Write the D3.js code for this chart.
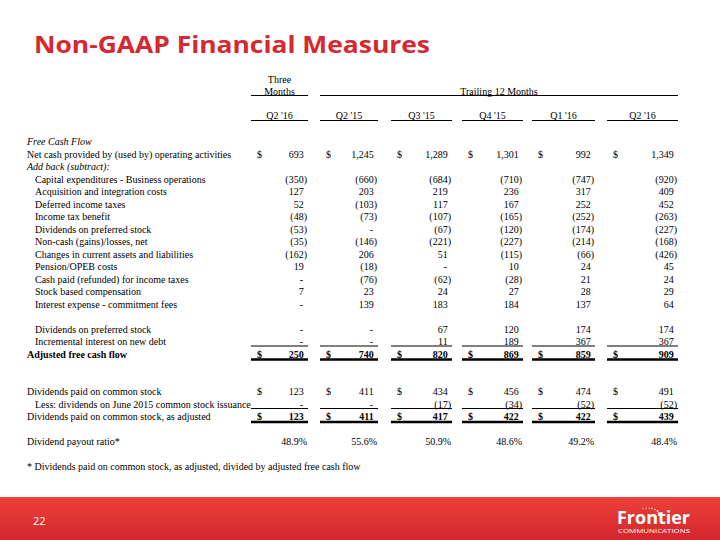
<!DOCTYPE html>
<html><head><meta charset="utf-8">
<script src="https://cdn.jsdelivr.net/npm/d3@7"></script>
<style>
html,body{margin:0;padding:0;background:#fff;}
svg{display:block;}
</style></head>
<body>
<svg id="chart" width="720" height="540"></svg>
<script>
// ---- data ----
const title = "Non-GAAP Financial Measures";
const groupHeaders = ["Three\nMonths", "Trailing 12 Months"];
const columns = ["Q2 '16", "Q2 '15", "Q3 '15", "Q4 '15", "Q1 '16", "Q2 '16"];
const netCash       = [693, 1245, 1289, 1301, 992, 1349];
const capex         = [-350, -660, -684, -710, -747, -920];
const acquisition   = [127, 203, 219, 236, 317, 409];
const deferredTax   = [52, -103, 117, 167, 252, 452];
const incomeTax     = [-48, -73, -107, -165, -252, -263];
const divPreferred  = [-53, null, -67, -120, -174, -227];
const nonCash       = [-35, -146, -221, -227, -214, -168];
const changesWC     = [-162, 206, 51, -115, -66, -426];
const pension       = [19, -18, null, 10, 24, 45];
const cashTaxes     = [null, -76, -62, -28, 21, 24];
const stockComp     = [7, 23, 24, 27, 28, 29];
const interestFees  = [null, 139, 183, 184, 137, 64];
const divPreferred2 = [null, null, 67, 120, 174, 174];
const incrInterest  = [null, null, 11, 189, 367, 367];
const adjustedFCF   = [250, 740, 820, 869, 859, 909];
const divCommon     = [123, 411, 434, 456, 474, 491];
const lessDivJune   = [null, null, -17, -34, -52, -52];
const divAdjusted   = [123, 411, 417, 422, 422, 439];
const payoutRatio   = [48.9, 55.6, 50.9, 48.6, 49.2, 48.4];
const footnote = "* Dividends paid on common stock, as adjusted, divided by adjusted free cash flow";
const pageNumber = "22";

// ---- row definitions (slot = row position on the grid) ----
const rows = [
  {slot:0,  label:"Free Cash Flow", style:"italic"},
  {slot:1,  label:"Net cash provided by (used by) operating activities", values:netCash, dollar:true},
  {slot:2,  label:"Add back (subtract):", style:"italic"},
  {slot:3,  label:"Capital expenditures - Business operations", values:capex, indent:true},
  {slot:4,  label:"Acquisition and integration costs", values:acquisition, indent:true},
  {slot:5,  label:"Deferred income taxes", values:deferredTax, indent:true},
  {slot:6,  label:"Income tax benefit", values:incomeTax, indent:true},
  {slot:7,  label:"Dividends on preferred stock", values:divPreferred, indent:true},
  {slot:8,  label:"Non-cash (gains)/losses, net", values:nonCash, indent:true},
  {slot:9,  label:"Changes in current assets and liabilities", values:changesWC, indent:true},
  {slot:10, label:"Pension/OPEB costs", values:pension, indent:true},
  {slot:11, label:"Cash paid (refunded) for income taxes", values:cashTaxes, indent:true},
  {slot:12, label:"Stock based compensation", values:stockComp, indent:true},
  {slot:13, label:"Interest expense - commitment fees", values:interestFees, indent:true},
  {slot:15, label:"Dividends on preferred stock", values:divPreferred2, indent:true},
  {slot:16, label:"Incremental interest on new debt", values:incrInterest, indent:true, lineBelow:true},
  {slot:17, label:"Adjusted free cash flow", values:adjustedFCF, dollar:true, bold:true, boldValues:true, total:true},
  {slot:20, label:"Dividends paid on common stock", values:divCommon, dollar:true},
  {slot:21, label:"Less: dividends on June 2015 common stock issuance", values:lessDivJune, indent:true, lineBelow:true},
  {slot:22, label:"Dividends paid on common stock, as adjusted", values:divAdjusted, dollar:true, boldValues:true, total:true},
  {slot:24, label:"Dividend payout ratio*", values:payoutRatio, pct:true},
  {slot:26, label:footnote}
];

// ---- layout ----
const svg = d3.select("#chart");
const serif = "'Liberation Serif','Times New Roman',serif";
const fs = 10;
const colIdx = d3.range(columns.length);
const colLeft  = d3.scaleOrdinal().domain(colIdx).range([251, 320, 391, 462, 532, 607]);
const colRight = d3.scaleOrdinal().domain(colIdx).range([308, 378, 452, 523, 595, 678]);
const y = d3.scaleLinear().domain([0, 26]).range([141.5, 466.5]);
const parenW = 3.3;

// title
svg.append("text").attr("x", 34).attr("y", 53)
  .attr("font-family", "'Open Sans','Noto Sans',sans-serif").attr("font-weight", 700)
  .attr("font-size", 24).attr("fill", "#d7282f")
  .attr("textLength", 396).attr("lengthAdjust", "spacingAndGlyphs")
  .text(title);

// group headers
const g = svg.append("g").attr("font-family", serif).attr("font-size", fs).attr("fill", "#000");
const threeCx = (colLeft(0) + colRight(0)) / 2;
groupHeaders[0].split("\n").forEach((t, i) => {
  g.append("text").attr("x", threeCx).attr("y", y(-5 + i)).attr("dy", "0.35em")
    .attr("text-anchor", "middle").text(t);
});
g.append("text").attr("x", (colLeft(1) + colRight(5)) / 2).attr("y", y(-4)).attr("dy", "0.35em")
  .attr("text-anchor", "middle").text(groupHeaders[1]);
const hLine = (x1, x2, yy, w) => g.append("line").attr("x1", x1).attr("x2", x2)
  .attr("y1", yy).attr("y2", yy).attr("stroke", "#000").attr("stroke-width", w);
hLine(colLeft(0), colRight(0), 95.5, 1);
hLine(colLeft(1), colRight(5), 95.5, 1);

// column headers
colIdx.forEach(i => {
  g.append("text").attr("x", (colLeft(i) + colRight(i)) / 2).attr("y", y(-2.1)).attr("dy", "0.35em")
    .attr("text-anchor", "middle").text(columns[i]);
  hLine(colLeft(i), colRight(i), 120.5, 1);
});

// rows
const fmt = d3.format(",");
rows.forEach(r => {
  const yy = y(r.slot);
  g.append("text").attr("x", r.indent ? 35 : 27).attr("y", yy).attr("dy", "0.35em")
    .attr("font-style", r.style === "italic" ? "italic" : null)
    .attr("font-weight", r.bold ? 700 : null)
    .text(r.label);
  if (!r.values) return;
  colIdx.forEach(i => {
    const v = r.values[i];
    const t = g.append("text").attr("y", yy).attr("dy", "0.35em").attr("text-anchor", "end")
      .attr("font-weight", r.boldValues ? 700 : null);
    if (v === null) {
      t.attr("x", colRight(i) - parenW - 1.5).text("-");
    } else if (r.pct) {
      t.attr("x", colRight(i) - 1).text(v.toFixed(1) + "%");
    } else if (v < 0) {
      t.attr("x", colRight(i) - 1).text("(" + fmt(-v) + ")");
    } else {
      t.attr("x", colRight(i) - 1 - parenW).text(fmt(v));
    }
    if (r.dollar) {
      g.append("text").attr("x", colLeft(i) + 6).attr("y", yy).attr("dy", "0.35em")
        .attr("font-weight", r.boldValues ? 700 : null).text("$");
    }
    if (r.lineBelow) hLine(colLeft(i), colRight(i), yy + 4.5, 1);
    if (r.total) hLine(colLeft(i), colRight(i), yy + 5.5, 2.4);
  });
});

// footer band
const defs = svg.append("defs");
const grad = defs.append("linearGradient").attr("id", "foot").attr("x1", 0).attr("x2", 0).attr("y1", 0).attr("y2", 1);
grad.append("stop").attr("offset", "0%").attr("stop-color", "#ec4139");
grad.append("stop").attr("offset", "100%").attr("stop-color", "#d2262e");
svg.append("rect").attr("x", 0).attr("y", 497).attr("width", 720).attr("height", 43).attr("fill", "url(#foot)");
svg.append("text").attr("x", 33).attr("y", 525).attr("font-family", "'Open Sans',sans-serif")
  .attr("font-size", 11).attr("fill", "#fff").text(pageNumber);

// logo
const logo = svg.append("g").attr("fill", "#fff");
logo.append("text").attr("x", 617).attr("y", 524).attr("font-family", "'Open Sans',sans-serif")
  .attr("font-weight", 700).attr("font-size", 17)
  .attr("textLength", 73).attr("lengthAdjust", "spacingAndGlyphs").text("Frontier");
logo.append("text").attr("x", 618).attr("y", 533).attr("font-family", "'Open Sans',sans-serif")
  .attr("font-size", 5).attr("textLength", 72).attr("lengthAdjust", "spacingAndGlyphs").text("COMMUNICATIONS");
[[643,508.5,0.5],[646,508,0.55],[649,508,0.6],[652,508.5,0.7],[655,509.5,0.8],[657.5,511,0.9],[659,513.5,1.2]]
  .forEach(d => logo.append("circle").attr("cx", d[0]).attr("cy", d[1]).attr("r", d[2]));
</script>
</body></html>
